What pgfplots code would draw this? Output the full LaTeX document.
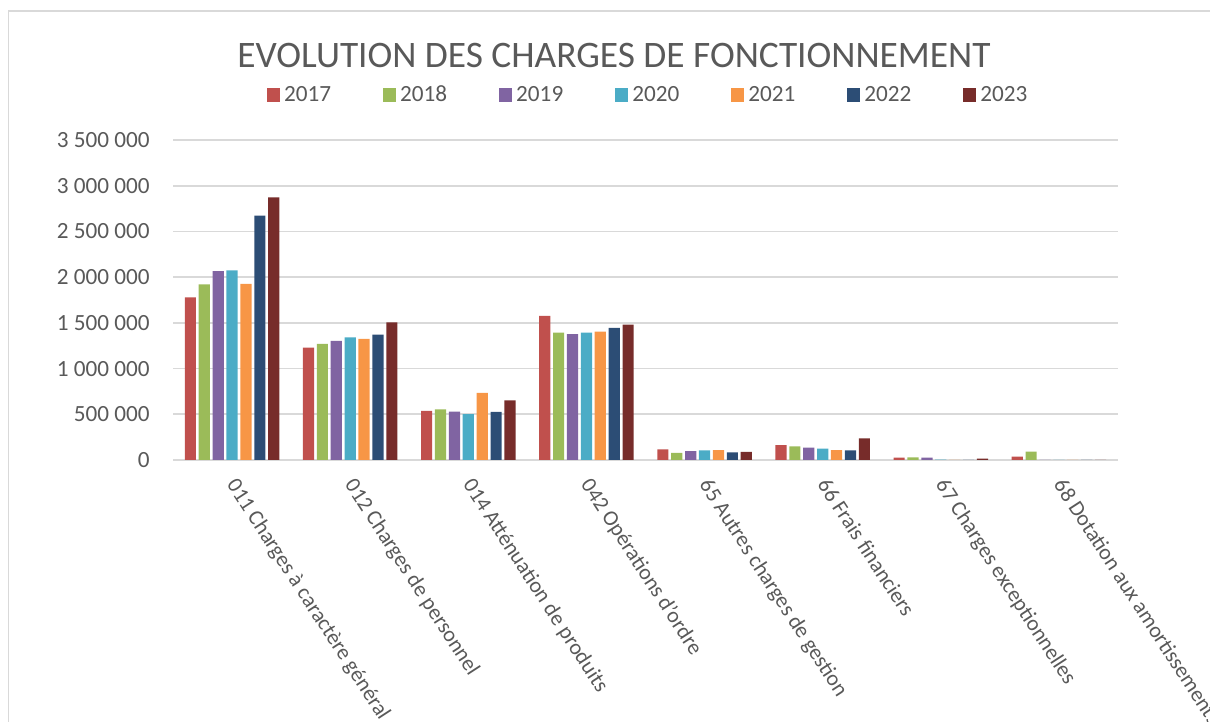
\documentclass[border=0pt]{standalone}
\usepackage{fontspec}
\setmainfont{Carlito}
\usepackage{pgfplots}
\pgfplotsset{compat=1.18}
\definecolor{c17}{HTML}{C0504D}
\definecolor{c18}{HTML}{9BBB59}
\definecolor{c19}{HTML}{8064A2}
\definecolor{c20}{HTML}{4BACC6}
\definecolor{c21}{HTML}{F79646}
\definecolor{c22}{HTML}{2C4D75}
\definecolor{c23}{HTML}{772C2A}
\definecolor{txt}{HTML}{595959}
\definecolor{gridc}{HTML}{D9D9D9}
\newcommand{\fs}{\fontsize{11.6pt}{13pt}\selectfont}
\newcommand{\fx}{\fontsize{10.9pt}{12pt}\selectfont}
\begin{document}
\begin{tikzpicture}
\useasboundingbox (0,0) rectangle (605pt,361pt);
\clip (0,0) rectangle (605pt,361pt);
\draw[gridc, line width=0.8pt] (4.3pt,-30pt) rectangle (700pt,355.5pt);
\begin{axis}[
  at={(86.5pt,131pt)}, anchor=south west,
  scale only axis, width=472.5pt, height=160pt,
  xmin=-0.5, xmax=7.5, ymin=0, ymax=3500000,
  ybar=1.35pt, bar width=5.6pt,
  axis line style={draw=none},
  major tick length=0pt,
  ymajorgrids=true, xmajorgrids=false,
  major grid style={color=gridc, line width=0.8pt},
  scaled y ticks=false,
  ytick={0,500000,1000000,1500000,2000000,2500000,3000000,3500000},
  yticklabels={0,500 000,1 000 000,1 500 000,2 000 000,2 500 000,3 000 000,3 500 000},
  yticklabel style={font=\fs, text=txt, anchor=east, inner sep=0pt, xshift=-11.5pt},
  xtick={0,1,2,3,4,5,6,7},
  xticklabels={011 Charges à caractère général,012 Charges de personnel,014 Atténuation de produits,042 Opérations d'ordre,65 Autres charges de gestion,66 Frais financiers,67 Charges exceptionnelles,68 Dotation aux amortissements},
  xticklabel style={font=\fx, text=txt, inner sep=0pt, xshift=3.5pt, yshift=-8pt, rotate=-57, anchor=north west},
  title={EVOLUTION DES CHARGES DE FONCTIONNEMENT},
  title style={font=\fontsize{18.7pt}{21pt}\selectfont, text=txt, at={(0.4667,1.225)}, anchor=center, yshift=0pt},
  legend columns=7,
  legend style={draw=none, fill=none, font=\fs, text=txt, at={(0.504,1.1406)}, anchor=center,
    /tikz/every even column/.append style={column sep=24pt}},
  legend image code/.code={\fill[#1] (0pt,-3.5pt) rectangle (6.5pt,3.5pt);},
  every axis plot/.append style={draw=none},
]
\addplot[fill=c17] coordinates {(0,1780000) (1,1229000) (2,536000) (3,1575000) (4,117000) (5,164000) (6,25000) (7,38000)};
\addplot[fill=c18] coordinates {(0,1922000) (1,1269000) (2,554000) (3,1393000) (4,77000) (5,150000) (6,30000) (7,91000)};
\addplot[fill=c19] coordinates {(0,2067000) (1,1302000) (2,529000) (3,1378000) (4,98000) (5,135000) (6,25000) (7,0)};
\addplot[fill=c20] coordinates {(0,2075000) (1,1342000) (2,503000) (3,1393000) (4,106000) (5,124000) (6,5000) (7,0)};
\addplot[fill=c21] coordinates {(0,1925000) (1,1324000) (2,733000) (3,1404000) (4,109000) (5,109000) (6,2000) (7,0)};
\addplot[fill=c22] coordinates {(0,2672000) (1,1371000) (2,525000) (3,1444000) (4,84000) (5,105000) (6,0) (7,0)};
\addplot[fill=c23] coordinates {(0,2873000) (1,1506000) (2,653000) (3,1480000) (4,88000) (5,237000) (6,15000) (7,0)};
\legend{2017,2018,2019,2020,2021,2022,2023}
\end{axis}
\end{tikzpicture}
\end{document}
